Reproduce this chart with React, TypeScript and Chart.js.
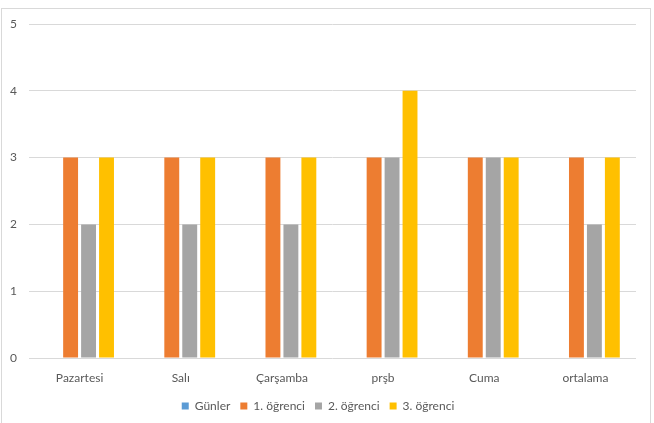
import React, { useEffect, useRef } from "react";
import { Chart, registerables } from "chart.js";

Chart.register(...registerables);

const categories = ["Pazartesi", "Salı", "Çarşamba", "prşb", "Cuma", "ortalama"];
const seriesNames = ["Günler", "1. öğrenci", "2. öğrenci", "3. öğrenci"];
const gunler: (number | null)[] = [null, null, null, null, null, null];
const ogrenci1 = [3, 3, 3, 3, 3, 3];
const ogrenci2 = [2, 2, 2, 3, 3, 2];
const ogrenci3 = [3, 3, 3, 4, 3, 3];
const yTicks = [0, 1, 2, 3, 4, 5];

const colors = ["#5B9BD5", "#ED7D31", "#A5A5A5", "#FFC000"];
const FONT = "Lato, 'Open Sans', sans-serif";

export default function App() {
  const ref = useRef<HTMLCanvasElement | null>(null);
  useEffect(() => {
    if (!ref.current) return;
    const values = [gunler, ogrenci1, ogrenci2, ogrenci3];
    const chart = new Chart(ref.current, {
      type: "bar",
      data: {
        labels: categories,
        datasets: seriesNames.map((name, i) => ({
          label: name,
          data: values[i],
          backgroundColor: colors[i],
          borderWidth: 0,
          categoryPercentage: 0.71,
          barPercentage: 0.83,
        })),
      },
      options: {
        animation: false,
        responsive: false,
        maintainAspectRatio: false,
        layout: { padding: { left: 0, right: 18, top: 24, bottom: 1 } },
        plugins: {
          tooltip: { enabled: false },
          legend: {
            position: "bottom",
            labels: {
              color: "#595959",
              font: { family: FONT, size: 12 },
              boxWidth: 7,
              boxHeight: 7,
              padding: 10,
            },
          },
        },
        scales: {
          x: {
            grid: { display: false, drawTicks: false },
            border: { display: false },
            ticks: { color: "#595959", font: { family: FONT, size: 12 }, padding: 13 },
            afterFit: (s: any) => {
              s.height = 32;
            },
          },
          y: {
            min: 0,
            max: 5,
            afterBuildTicks: (s: any) => {
              s.ticks = yTicks.map((v) => ({ value: v }));
            },
            grid: { color: "#D9D9D9", drawTicks: false },
            border: { display: false },
            ticks: { color: "#595959", font: { family: FONT, size: 12 }, padding: 12 },
            afterFit: (s: any) => {
              s.width = 29;
            },
          },
        },
      },
    });
    return () => chart.destroy();
  }, []);
  return (
    <div style={{ position: "fixed", left: 0, top: 0, width: 654, height: 423, background: "#fff" }}>
      <div
        style={{
          position: "absolute",
          left: 1,
          top: 8,
          width: 650,
          height: 430,
          border: "1px solid #D9D9D9",
          boxSizing: "border-box",
        }}
      />
      <canvas ref={ref} width={654} height={423} style={{ position: "absolute", left: 0, top: 0 }} />
    </div>
  );
}
